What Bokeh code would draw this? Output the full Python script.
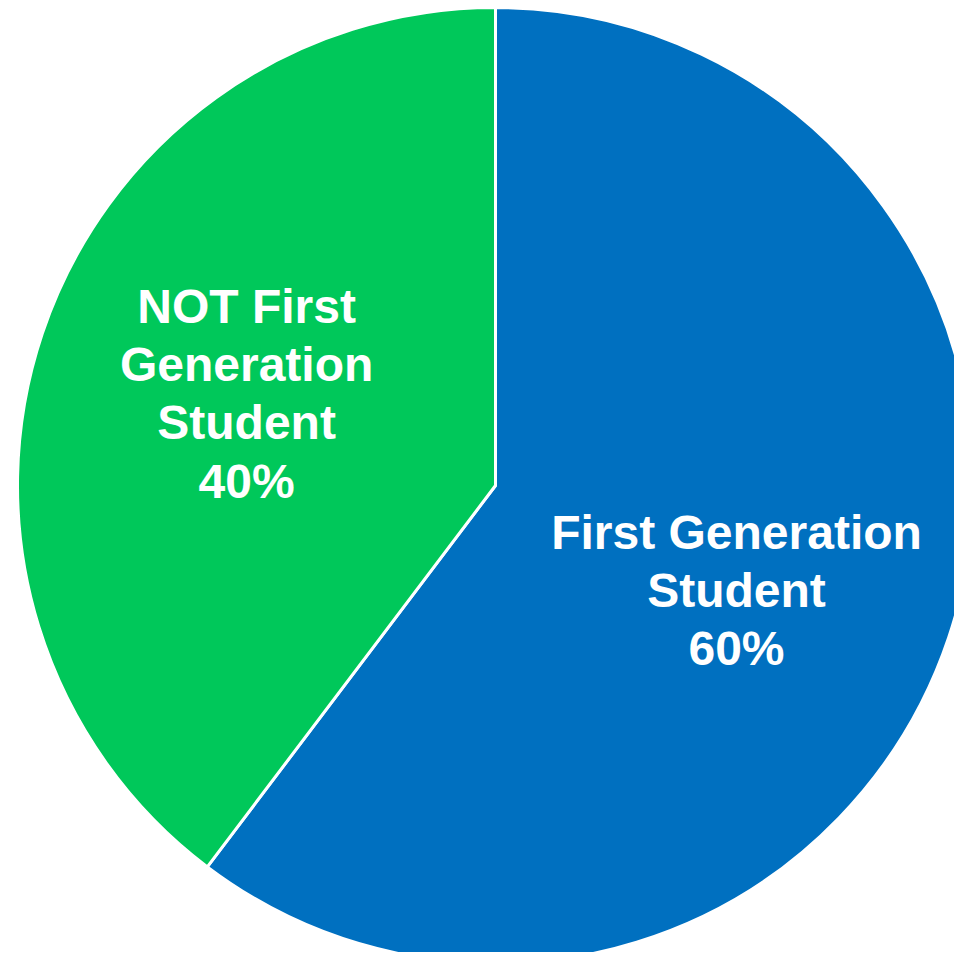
import math
from bokeh.plotting import figure
from bokeh.models import ColumnDataSource, Range1d
from bokeh.core.properties import value
from bokeh.embed import file_html
from bokeh.resources import INLINE

# ---- data ----
categories = ["First Generation\nStudent", "NOT First\nGeneration\nStudent"]
shares = [60.3, 39.7]
colors = ["#0070C0", "#00C85A"]

# ---- layout (pixels == data units) ----
W, H = 954, 952
cx, cy = 495, H - 485
R = 478
label_frac = [0.55, 0.555]
label_shift_deg = [-5.0, -1.7]

total = float(sum(shares))
starts, ends, lx, ly, texts = [], [], [], [], []
acc = 0.0
for cat, s, f, sh in zip(categories, shares, label_frac, label_shift_deg):
    a0 = math.pi / 2 - 2 * math.pi * acc / total
    acc += s
    a1 = math.pi / 2 - 2 * math.pi * acc / total
    starts.append(a0)
    ends.append(a1)
    mid = (a0 + a1) / 2 + math.radians(sh)
    lx.append(cx + f * R * math.cos(mid))
    ly.append(cy + f * R * math.sin(mid))
    texts.append(f"{cat}\n{round(100 * s / total)}%")

src = ColumnDataSource(dict(start=starts, end=ends, color=colors,
                            lx=lx, ly=ly, text=texts,
                            x=[cx] * len(shares), y=[cy] * len(shares)))

p = figure(width=W, height=H, output_backend="svg", toolbar_location=None,
           x_range=Range1d(0, W), y_range=Range1d(0, H),
           min_border=0, outline_line_color=None)
p.axis.visible = False
p.grid.visible = False
p.background_fill_color = "white"

p.wedge(x="x", y="y", radius=R, start_angle="start", end_angle="end",
        direction="clock", fill_color="color", line_color="white",
        line_width=3, source=src)

p.text(x="lx", y="ly", text="text", source=src,
       text_font=value("Liberation Sans"), text_font_style="bold",
       text_font_size="48px", text_color="white",
       text_align="center", text_baseline="middle", text_line_height=1.1)

open("out.html", "w").write(file_html(p, INLINE))
